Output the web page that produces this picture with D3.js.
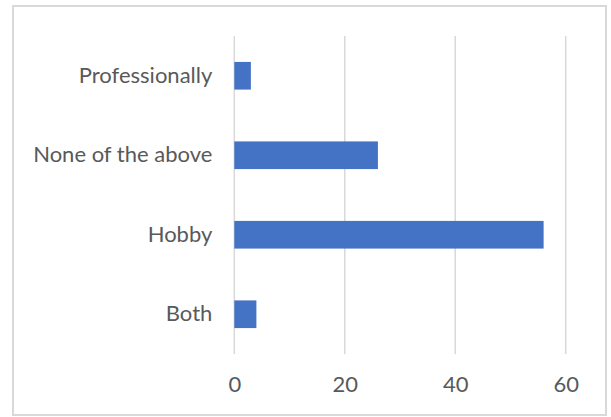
<!DOCTYPE html>
<html>
<head>
<meta charset="utf-8">
<script src="https://cdn.jsdelivr.net/npm/d3@7"></script>
<style>
  html, body { margin: 0; padding: 0; background: #ffffff; }
  svg { display: block; }
  text { font-family: Lato, "Open Sans", sans-serif; fill: #595959; }
</style>
</head>
<body>
<div id="chart"></div>
<script>
// Survey responses, listed top to bottom as drawn
const categories = ["Professionally", "None of the above", "Hobby", "Both"];
const counts = [3, 26, 56, 4];
const xTicks = [0, 20, 40, 60];

const width = 611, height = 417;
const plot = { left: 234.3, right: 565.7, top: 36, bottom: 354 };

const svg = d3.select("#chart").append("svg")
  .attr("width", width)
  .attr("height", height);

// chart frame
svg.append("rect")
  .attr("x", 13).attr("y", 6)
  .attr("width", 593).attr("height", 409)
  .attr("fill", "#ffffff")
  .attr("stroke", "#d9d9d9")
  .attr("stroke-width", 2);

const x = d3.scaleLinear().domain([0, 60]).range([plot.left, plot.right]);
const y = d3.scaleBand().domain(categories)
  .range([plot.top, plot.bottom])
  .paddingInner(0.652)
  .paddingOuter(0.326);

// vertical gridlines
svg.append("g")
  .selectAll("line")
  .data(xTicks)
  .join("line")
  .attr("x1", d => x(d)).attr("x2", d => x(d))
  .attr("y1", plot.top).attr("y2", plot.bottom)
  .attr("stroke", "#d9d9d9")
  .attr("stroke-width", 1.5);

// bars
svg.append("g")
  .selectAll("rect")
  .data(categories.map((c, i) => ({ c, v: counts[i] })))
  .join("rect")
  .attr("x", x(0))
  .attr("y", d => y(d.c))
  .attr("width", d => x(d.v) - x(0))
  .attr("height", y.bandwidth())
  .attr("fill", "#4472c4");

// category labels
const yAxis = d3.axisLeft(y).tickSize(0).tickPadding(22);
svg.append("g")
  .attr("transform", `translate(${plot.left},0)`)
  .call(yAxis)
  .call(g => g.select(".domain").remove())
  .call(g => g.selectAll("text")
    .attr("font-size", 22)
    .style("font-family", "Lato, 'Open Sans', sans-serif")
    .attr("fill", "#595959"));

// value axis labels
const xAxis = d3.axisBottom(x).tickValues(xTicks).tickSize(0).tickPadding(22);
svg.append("g")
  .attr("transform", `translate(0,${plot.bottom})`)
  .call(xAxis)
  .call(g => g.select(".domain").remove())
  .call(g => g.selectAll("text")
    .attr("font-size", 22)
    .style("font-family", "Lato, 'Open Sans', sans-serif")
    .attr("fill", "#595959"));
</script>
</body>
</html>
